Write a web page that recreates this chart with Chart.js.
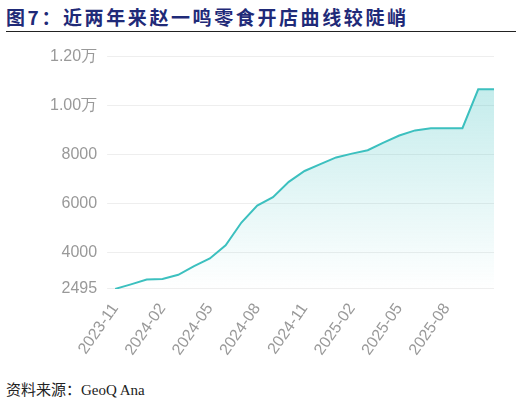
<!DOCTYPE html>
<html><head><meta charset="utf-8">
<script src="https://cdn.jsdelivr.net/npm/chart.js@4"></script>
<style>
body{margin:0;background:#fff;width:522px;height:407px;overflow:hidden;font-family:"Noto Sans CJK SC",sans-serif}
#title{position:absolute;left:6px;top:3px;font-size:19px;font-weight:bold;color:#1f2a78;letter-spacing:2.6px}
#rule{position:absolute;left:6px;top:31px;width:510px;height:1px;background:#222}
#wrap{position:absolute;left:0;top:37px;width:522px;height:325px}
#src{position:absolute;left:6px;top:378px;font-size:15px;color:#222;font-family:"Noto Sans CJK SC","Liberation Serif",serif}
</style></head><body>
<div id="title">图7：近两年来赵一鸣零食开店曲线较陡峭</div>
<div id="rule"></div>
<div id="wrap"><canvas id="c"></canvas></div>
<div id="src">资料来源：<span style="font-family:'Liberation Serif',serif">GeoQ Ana</span></div>
<script>
const months = ['2023-11','2023-12','2024-01','2024-02','2024-03','2024-04','2024-05','2024-06','2024-07','2024-08','2024-09','2024-10','2024-11','2024-12','2025-01','2025-02','2025-03','2025-04','2025-05','2025-06','2025-07','2025-08','2025-09','2025-10','2025-11'];
const stores = [2495,2680,2875,2900,3070,3430,3740,4280,5210,5900,6250,6875,7320,7600,7875,8030,8170,8480,8770,8980,9070,9070,9070,10660,10660];
const yTicks = [2495,4000,6000,8000,10000,12000];
const xTickEvery = 3;

const ctx = document.getElementById('c');
new Chart(ctx, {
    type: 'line',
    data: {
        labels: months,
        datasets: [{
            data: stores,
            borderColor: '#3cc0bf',
            borderWidth: 2,
            pointRadius: 0,
            tension: 0,
            fill: true,
            backgroundColor: (c) => {
                const a = c.chart.chartArea;
                if (!a) return 'rgba(60,192,191,0.2)';
                const g = c.chart.ctx.createLinearGradient(0, a.top, 0, a.bottom);
                g.addColorStop(0, 'rgba(60,192,191,0.35)');
                g.addColorStop(1, 'rgba(60,192,191,0)');
                return g;
            }
        }]
    },
    options: {
        responsive: true, maintainAspectRatio: false, animation: false,
        layout: { padding: { left: 40, right: 28, top: 4 } },
        plugins: { legend: { display: false }, tooltip: { enabled: false } },
        scales: {
            x: {
                grid: { display: false },
                border: { display: false },
                ticks: {
                    autoSkip: false, maxRotation: 55, minRotation: 55,
                    color: '#999', font: { size: 16 },
                    callback: (v, i) => (i % xTickEvery === 0 && i < months.length - 1) ? months[i] : ''
                }
            },
            y: {
                min: 2495, max: 12000,
                border: { display: false },
                grid: { color: '#eeeeee' },
                afterBuildTicks: (s) => { s.ticks = yTicks.map(v => ({ value: v })); },
                ticks: {
                    color: '#999', font: { size: 16 }, padding: 10,
                    callback: (v) => v >= 10000 ? (v / 10000).toFixed(2) + '万' : String(v)
                }
            }
        }
    }
});
</script>
</body></html>
